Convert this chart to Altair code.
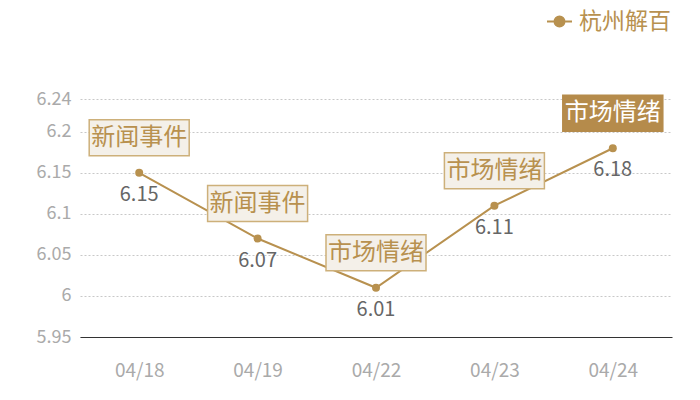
import altair as alt
import pandas as pd

dates = ["04/18", "04/19", "04/22", "04/23", "04/24"]
values = [6.15, 6.07, 6.01, 6.11, 6.18]
tags = ["新闻事件", "新闻事件", "市场情绪", "市场情绪", "市场情绪"]
highlight = [0, 0, 0, 0, 1]
series = "杭州解百"
y_ticks = [5.95, 6.0, 6.05, 6.1, 6.15, 6.2, 6.24]

GOLD = "#b8914f"
FONT = "Noto Sans CJK SC"

df = pd.DataFrame({"date": dates, "value": values, "tag": tags,
                   "hl": highlight, "series": [series] * len(dates)})

x = alt.X("date:N", sort=dates, title=None,
          scale=alt.Scale(paddingInner=0, paddingOuter=0),
          axis=alt.Axis(labelAngle=0, ticks=False, tickSize=0, labelPadding=24,
                        labelColor="#aaaaaa", labelFontSize=19, labelFont=FONT,
                        domainColor="#333333", domainWidth=1, grid=False))
y = alt.Y("value:Q", title=None,
          scale=alt.Scale(domain=[5.95, 6.24], nice=False, zero=False),
          axis=alt.Axis(values=y_ticks, format="~g", ticks=False, tickSize=0,
                        domain=False, labelPadding=9, labelColor="#aaaaaa",
                        labelFontSize=18, labelFont=FONT,
                        grid=True, gridColor="#c8c8c8", gridDash=[2, 2], gridWidth=1))

base = alt.Chart(df)

line = base.mark_line(strokeWidth=2).encode(
    x=x, y=y,
    color=alt.Color("series:N", scale=alt.Scale(domain=[series], range=[GOLD]),
                    legend=alt.Legend(title=None, orient="none", legendX=466, legendY=-91,
                                      symbolType="M-1,0H1M0.4,0A0.4,0.4,0,1,1,-0.4,0A0.4,0.4,0,1,1,0.4,0Z",
                                      symbolSize=625, symbolStrokeWidth=2,
                                      symbolFillColor=GOLD, symbolStrokeColor=GOLD,
                                      labelFontSize=23, labelFont=FONT, labelColor=GOLD,
                                      labelOffset=6, padding=0)),
)

points = base.mark_point(filled=True, size=64, color=GOLD, opacity=1).encode(x=x, y=y)

boxes = base.mark_point(
    shape="M-1,-0.36L1,-0.36L1,0.36L-1,0.36Z", size=10000, filled=True,
    strokeWidth=1.5, opacity=1, yOffset=-35,
).encode(
    x=x, y=y,
    fill=alt.condition("datum.hl == 1", alt.value("#b58b4b"), alt.value("#f4f0e9")),
    stroke=alt.condition("datum.hl == 1", alt.value("#b58b4b"), alt.value("#cdb07a")),
)

box_text = base.mark_text(fontSize=24, font=FONT, dy=-35, baseline="middle").encode(
    x=x, y=y, text="tag:N",
    color=alt.condition("datum.hl == 1", alt.value("#ffffff"), alt.value(GOLD)),
)

val_text = base.mark_text(fontSize=20, font=FONT, dy=22, baseline="middle",
                          color="#666666").encode(
    x=x, y=y, text=alt.Text("value:Q", format=".2f"))

chart = alt.layer(line, points, boxes, box_text, val_text).properties(
    width=592, height=238,
    background="#ffffff",
    autosize=alt.AutoSizeParams(type="none"),
    padding={"left": 72, "top": 91, "right": 20, "bottom": 55},
).configure_view(stroke="transparent", strokeWidth=0)

chart.save("out.html", embed_options={"renderer": "svg", "actions": False})
